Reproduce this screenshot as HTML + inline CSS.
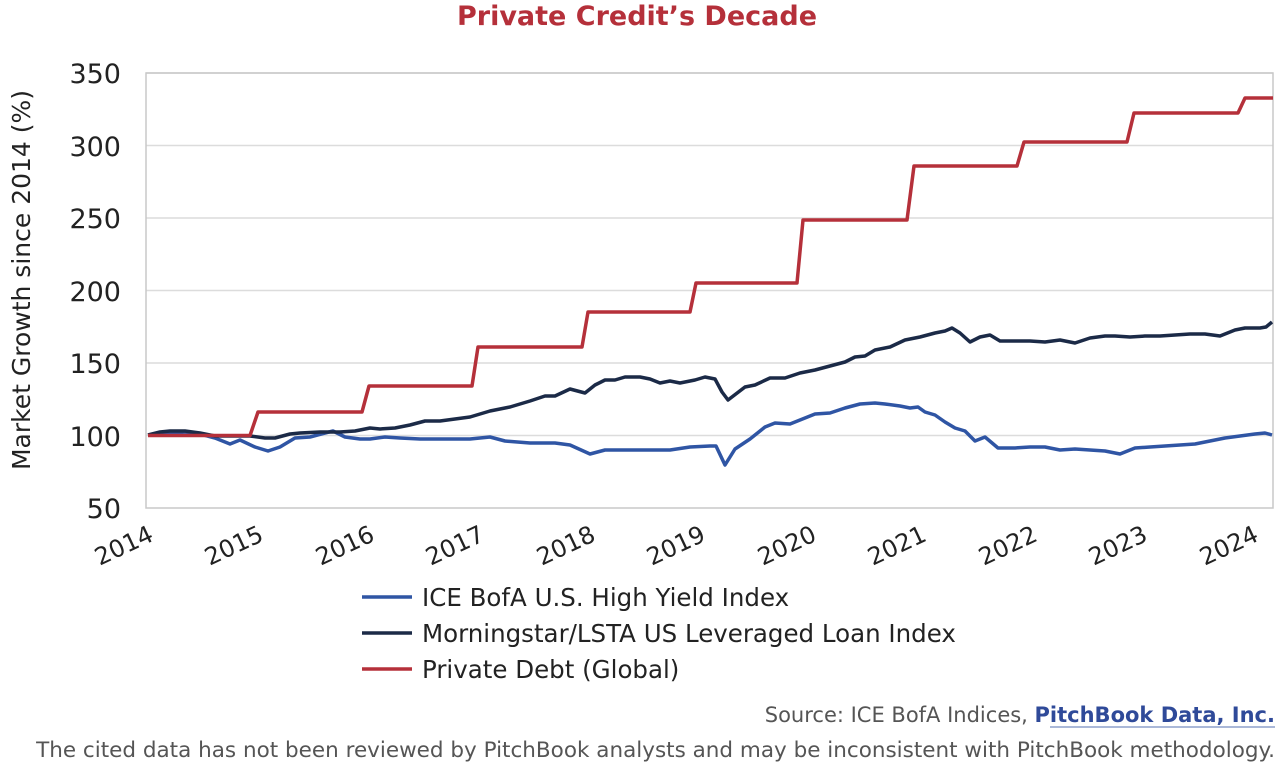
<!DOCTYPE html>
<html><head><meta charset="utf-8"><style>
body{margin:0;background:#fff;width:1280px;height:767px;overflow:hidden;font-family:"DejaVu Sans","Liberation Sans",sans-serif}
</style></head><body>
<svg width="1280" height="767" xmlns="http://www.w3.org/2000/svg" font-family="DejaVu Sans, Liberation Sans, sans-serif">
<text x="637" y="25" text-anchor="middle" font-size="27" font-weight="bold" fill="#b5303a">Private Credit’s Decade</text>
<g stroke="#dcdcdc" stroke-width="1.5">
<line x1="146" y1="73" x2="1273" y2="73"/>
<line x1="146" y1="145.5" x2="1273" y2="145.5"/>
<line x1="146" y1="218" x2="1273" y2="218"/>
<line x1="146" y1="290.5" x2="1273" y2="290.5"/>
<line x1="146" y1="363" x2="1273" y2="363"/>
<line x1="146" y1="435.5" x2="1273" y2="435.5"/>
</g>
<rect x="146" y="73" width="1127" height="435" fill="none" stroke="#c8c8c8" stroke-width="1.5"/>
<g font-size="27" fill="#222" text-anchor="end">
<text x="121" y="83">350</text><text x="121" y="156">300</text><text x="121" y="228">250</text>
<text x="121" y="301">200</text><text x="121" y="373">150</text><text x="121" y="446">100</text><text x="121" y="518">50</text>
</g>
<text transform="translate(30,280) rotate(-90)" text-anchor="middle" font-size="25" fill="#222">Market Growth since 2014 (%)</text>
<g font-size="24" fill="#222" text-anchor="end">
<text transform="translate(155,540) rotate(-25)">2014</text>
<text transform="translate(265,540) rotate(-25)">2015</text>
<text transform="translate(376,540) rotate(-25)">2016</text>
<text transform="translate(486,540) rotate(-25)">2017</text>
<text transform="translate(597,540) rotate(-25)">2018</text>
<text transform="translate(707,540) rotate(-25)">2019</text>
<text transform="translate(818,540) rotate(-25)">2020</text>
<text transform="translate(928,540) rotate(-25)">2021</text>
<text transform="translate(1039,540) rotate(-25)">2022</text>
<text transform="translate(1149,540) rotate(-25)">2023</text>
<text transform="translate(1260,540) rotate(-25)">2024</text>
</g>
<g fill="none" stroke-width="3.5" stroke-linejoin="round">
<polyline stroke="#2f55a4" points="148,435 165,434 185,432 200,434 215,438 230,444 240,440 255,447 268,451 280,447 295,438 310,437 325,433 333,431 345,437 360,439 370,439 385,437 400,438 420,439 440,439 470,439 490,437 505,441 530,443 555,443 570,445 590,454 605,450 625,450 645,450 670,450 690,447 710,446 716,446 725,465 735,449 750,439 765,427 775,423 790,424 800,420 815,414 830,413 845,408 860,404 875,403 885,404 900,406 910,408 918,407 925,412 935,415 945,422 955,428 965,431 975,441 985,437 998,448 1015,448 1030,447 1045,447 1060,450 1075,449 1090,450 1105,451 1120,454 1135,448 1150,447 1165,446 1180,445 1195,444 1210,441 1225,438 1240,436 1255,434 1265,433 1272,435"/>
<polyline stroke="#1b2a47" points="148,435 160,432 170,431 185,431 200,433 215,436 235,436 250,436 265,438 275,438 290,434 300,433 320,432 340,432 355,431 370,428 380,429 395,428 410,425 425,421 440,421 455,419 470,417 490,411 510,407 530,401 545,396 555,396 570,389 585,393 595,385 605,380 615,380 625,377 640,377 650,379 660,383 670,381 680,383 695,380 705,377 715,379 722,392 728,400 745,387 755,385 770,378 785,378 800,373 815,370 830,366 845,362 855,357 865,356 875,350 890,347 905,340 920,337 935,333 945,331 952,328 960,333 970,342 980,337 990,335 1000,341 1015,341 1030,341 1045,342 1060,340 1075,343 1090,338 1105,336 1115,336 1130,337 1145,336 1160,336 1175,335 1190,334 1205,334 1220,336 1235,330 1245,328 1260,328 1266,327 1272,322"/>
<polyline stroke="#b5303a" points="148,435.5 250,435.5 258,412 362,412 369,386 472,386 478,347 582,347 588,312 690,312 696,283 797,283 803,220 907,220 914,166 1017,166 1024,142 1127,142 1134,113 1238,113 1245,98 1273,98"/>
</g>
<g stroke-width="3.5">
<line x1="362" y1="597" x2="412" y2="597" stroke="#2f55a4"/>
<line x1="362" y1="633" x2="412" y2="633" stroke="#1b2a47"/>
<line x1="362" y1="669" x2="412" y2="669" stroke="#b5303a"/>
</g>
<g font-size="24.5" fill="#222">
<text x="422" y="606">ICE BofA U.S. High Yield Index</text>
<text x="422" y="642">Morningstar/LSTA US Leveraged Loan Index</text>
<text x="422" y="678">Private Debt (Global)</text>
</g>
<text x="1275" y="722" text-anchor="end" font-size="21" fill="#555">Source: ICE BofA Indices, <tspan fill="#2f4a99" font-weight="bold">PitchBook Data, Inc.</tspan></text>
<line x1="1050" y1="727" x2="1275" y2="727" stroke="#8ea0cc" stroke-width="1.5"/>
<text x="1275" y="757" text-anchor="end" font-size="21.5" fill="#555">The cited data has not been reviewed by PitchBook analysts and may be inconsistent with PitchBook methodology.</text>
</svg>
</body></html>
